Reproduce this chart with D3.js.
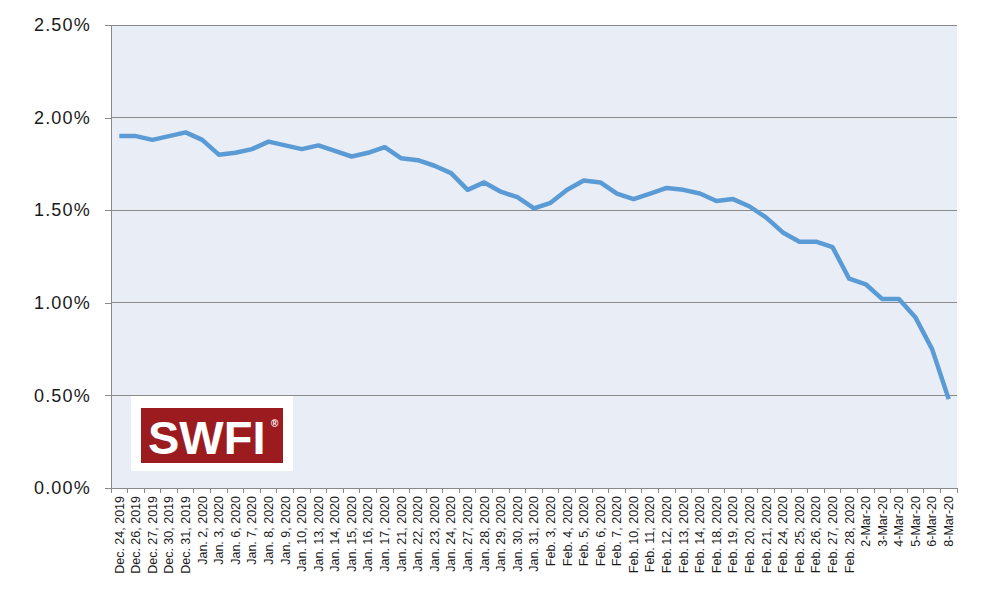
<!DOCTYPE html>
<html><head><meta charset="utf-8">
<script src="https://cdn.jsdelivr.net/npm/d3@7"></script>
<style>body{margin:0;background:#fff}svg{display:block}</style>
</head><body>
<svg id="c" width="1000" height="599"></svg>
<script>
const categories = ["Dec. 24, 2019","Dec. 26, 2019","Dec. 27, 2019","Dec. 30, 2019","Dec. 31, 2019",
"Jan. 2, 2020","Jan. 3, 2020","Jan. 6, 2020","Jan. 7, 2020","Jan. 8, 2020","Jan. 9, 2020","Jan. 10, 2020",
"Jan. 13, 2020","Jan. 14, 2020","Jan. 15, 2020","Jan. 16, 2020","Jan. 17, 2020","Jan. 21, 2020","Jan. 22, 2020",
"Jan. 23, 2020","Jan. 24, 2020","Jan. 27, 2020","Jan. 28, 2020","Jan. 29, 2020","Jan. 30, 2020","Jan. 31, 2020",
"Feb. 3, 2020","Feb. 4, 2020","Feb. 5, 2020","Feb. 6, 2020","Feb. 7, 2020","Feb. 10, 2020","Feb. 11, 2020",
"Feb. 12, 2020","Feb. 13, 2020","Feb. 14, 2020","Feb. 18, 2020","Feb. 19, 2020","Feb. 20, 2020","Feb. 21, 2020",
"Feb. 24, 2020","Feb. 25, 2020","Feb. 26, 2020","Feb. 27, 2020","Feb. 28, 2020",
"2-Mar-20","3-Mar-20","4-Mar-20","5-Mar-20","6-Mar-20","8-Mar-20"];
const values = [1.90,1.90,1.88,1.90,1.92,1.88,1.80,1.81,1.83,1.87,1.85,1.83,1.85,1.82,1.79,1.81,1.84,1.78,1.77,1.74,1.70,
1.61,1.65,1.60,1.57,1.51,1.54,1.61,1.66,1.65,1.59,1.56,1.59,1.62,1.61,1.59,1.55,1.56,1.52,1.46,1.38,1.33,1.33,1.30,
1.13,1.10,1.02,1.02,0.92,0.75,0.48];
const yTicks = [0,0.5,1,1.5,2,2.5];

const svg = d3.select("#c");
const L=111, R=957, T=25, B=488;
const x = d3.scaleBand().domain(categories).range([L,R]);
const y = d3.scaleLinear().domain([0,2.5]).range([B,T]);

svg.append("rect").attr("x",L).attr("y",T).attr("width",R-L).attr("height",B-T).attr("fill","#e9edf6");

// gridlines
svg.append("g").selectAll("line").data(yTicks.filter(d=>d>0)).join("line")
  .attr("x1",L).attr("x2",R).attr("y1",d=>y(d)).attr("y2",d=>y(d))
  .attr("stroke","#8a8a8a").attr("stroke-width",1).attr("shape-rendering","crispEdges");

// y axis
const ya = svg.append("g").attr("transform",`translate(${L},0)`)
  .call(d3.axisLeft(y).tickValues(yTicks).tickSize(6).tickPadding(14).tickFormat(d=>d.toFixed(2)+"%"));
ya.select(".domain").attr("stroke","#8a8a8a").attr("shape-rendering","crispEdges");
ya.selectAll(".tick line").attr("stroke","#8a8a8a").attr("shape-rendering","crispEdges");
ya.selectAll("text").attr("font-family","Liberation Sans, Arial, sans-serif").attr("font-size",18)
  .attr("letter-spacing","1.2px").attr("fill","#1a1a1a");

// x axis
const xa = svg.append("g").attr("transform",`translate(0,${B})`)
  .call(d3.axisBottom(x).tickSize(0).tickSizeOuter(0));
xa.select(".domain").attr("stroke","#8a8a8a").attr("shape-rendering","crispEdges");
xa.selectAll(".tick text").attr("font-family","Liberation Sans, Arial, sans-serif").attr("font-size",12.5)
  .attr("fill","#1a1a1a").attr("text-anchor","end").attr("transform","rotate(-90)")
  .attr("x",-8).attr("y",0).attr("dy","0.35em");
// boundary ticks
svg.append("g").selectAll("line").data(d3.range(categories.length+1)).join("line")
  .attr("x1",i=>L+i*x.step()).attr("x2",i=>L+i*x.step())
  .attr("y1",B).attr("y2",B+5).attr("stroke","#8a8a8a").attr("shape-rendering","crispEdges");

// line
const line = d3.line().x((d,i)=>x(categories[i])+x.bandwidth()/2).y(d=>y(d));
svg.append("path").datum(values).attr("d",line).attr("fill","none")
  .attr("stroke","#5b9bd5").attr("stroke-width",4.5).attr("stroke-linejoin","round");

// logo
const lg = svg.append("g");
lg.append("rect").attr("x",131).attr("y",396).attr("width",162).attr("height",75).attr("fill","#fff");
lg.append("rect").attr("x",141).attr("y",408).attr("width",142).attr("height",55).attr("fill","#9b1b1f");
lg.append("text").attr("x",148).attr("y",454).attr("font-family","Liberation Sans, Arial, sans-serif")
  .attr("font-weight","bold").attr("font-size",47).attr("fill","#fff").text("SWFI");
lg.append("text").attr("x",271).attr("y",427).attr("font-family","Liberation Sans, Arial, sans-serif")
  .attr("font-weight","bold").attr("font-size",10).attr("fill","#fff").text("®");
</script>
</body></html>
